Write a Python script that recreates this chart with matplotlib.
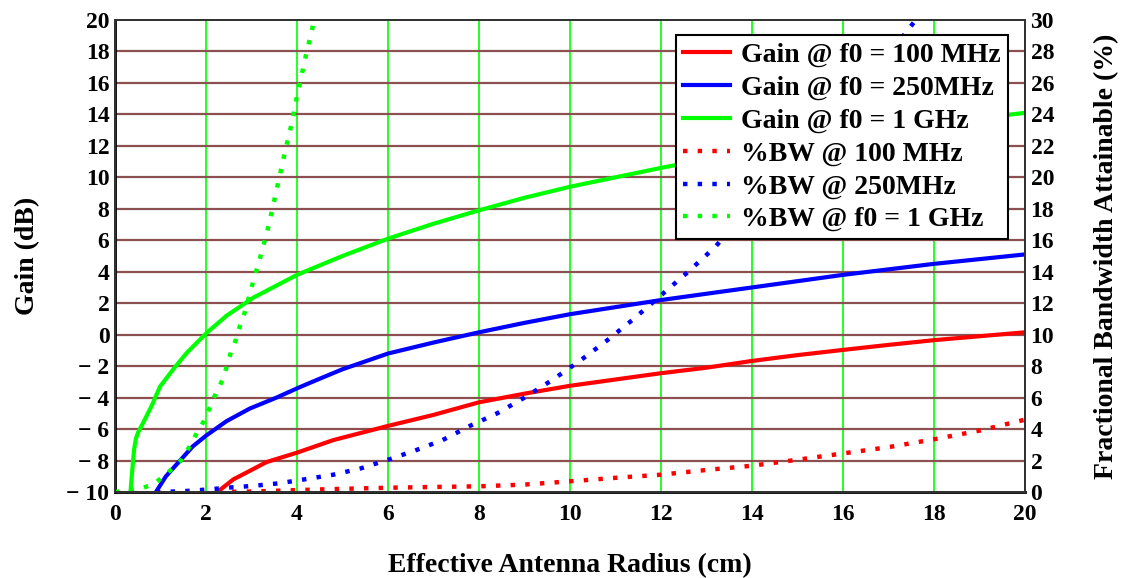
import numpy as np
import matplotlib
matplotlib.use("Agg")
import matplotlib.pyplot as plt
from matplotlib.ticker import FuncFormatter

# gain curves (dB) vs effective radius (cm)
r_g100 = [2.25, 2.6, 3.0, 3.33, 4.0, 4.8, 6.0, 7.0, 8.0, 9.0, 10.0, 11.0, 12.0,
          13.0, 14.0, 15.0, 16.0, 17.0, 18.0, 19.0, 20.0]
g100 = [-10.0, -9.2, -8.6, -8.1, -7.5, -6.7, -5.8, -5.1, -4.3, -3.75, -3.25, -2.85, -2.45,
        -2.1, -1.67, -1.3, -0.97, -0.65, -0.35, -0.1, 0.15]

r_g250 = [0.9, 1.12, 1.43, 1.71, 2.01, 2.45, 2.96, 3.55, 4.05, 4.5, 5.0, 6.0, 7.0,
          8.0, 9.0, 10.0, 11.0, 12.0, 13.0, 14.0, 15.0, 16.0, 17.0, 18.0, 19.0, 20.0]
g250 = [-10.0, -9.0, -8.0, -7.1, -6.4, -5.5, -4.7, -4.0, -3.35, -2.8, -2.2, -1.2, -0.5,
        0.15, 0.75, 1.3, 1.75, 2.2, 2.6, 3.0, 3.4, 3.8, 4.15, 4.5, 4.8, 5.1]

r_g1000 = [0.34, 0.38, 0.42, 0.46, 0.51, 0.62, 0.81, 0.99, 1.28, 1.58, 2.01, 2.45, 3.04,
           4.0, 5.0, 6.0, 7.0, 8.0, 9.0, 10.0, 11.0, 12.0, 14.0, 16.0, 18.0, 20.0]
g1000 = [-10.0, -8.6, -7.3, -6.6, -6.2, -5.6, -4.5, -3.3, -2.2, -1.15, 0.1, 1.2, 2.35,
         3.8, 5.0, 6.1, 7.05, 7.9, 8.7, 9.4, 10.0, 10.6, 11.7, 12.6, 13.4, 14.1]

# fractional bandwidth curves (%)
r_bw100 = [2.25, 3.0, 4.0, 5.0, 6.0, 7.0, 8.0, 9.0, 10.0, 11.0, 12.0, 13.0, 14.0,
           15.0, 16.0, 17.0, 18.0, 19.0, 20.0]
bw100 = [0.0, 0.03, 0.12, 0.2, 0.27, 0.32, 0.36, 0.47, 0.68, 0.9, 1.1, 1.4, 1.67,
         2.05, 2.45, 2.85, 3.35, 3.9, 4.6]

r_bw250 = [0.9, 1.5, 2.0, 2.5, 3.0, 3.6, 4.2, 4.8, 5.4, 6.0, 6.6, 7.2, 7.8, 8.4, 9.0,
           9.6, 10.2, 10.8, 11.4, 12.0, 12.6, 13.2, 14.0, 15.0, 16.0, 17.0, 17.6]
bw250 = [0.0, 0.05, 0.15, 0.28, 0.38, 0.55, 0.82, 1.1, 1.5, 2.05, 2.64, 3.3, 4.2, 5.0, 6.0,
         7.1, 8.3, 9.6, 11.0, 12.5, 14.0, 15.6, 18.3, 21.4, 24.6, 27.8, 30.0]

r_bw1000 = [0.0, 0.3, 0.6, 0.85, 1.15, 1.45, 1.62, 1.79, 1.95, 2.09, 2.22, 2.36, 2.46,
            2.55, 2.66, 2.75, 2.85, 3.02, 3.19, 3.35, 3.49, 3.62, 3.75, 3.89, 3.99, 4.2, 4.38]
bw1000 = [0.0, 0.1, 0.25, 0.5, 1.2, 2.0, 2.8, 3.7, 4.5, 5.4, 6.3, 7.1, 8.0,
          8.9, 9.7, 10.6, 11.4, 13.2, 14.9, 16.6, 18.4, 20.1, 21.8, 23.5, 25.0, 27.8, 30.0]

x_ticks = np.arange(0, 21, 2)
gain_ticks = np.arange(-10, 21, 2)
bw_ticks = np.arange(0, 31, 2)

plt.rcParams["font.family"] = ["Liberation Serif", "DejaVu Serif"]
plt.rcParams["font.weight"] = "bold"

fig = plt.figure(figsize=(11.23, 5.78), dpi=100)
ax = fig.add_axes([0.1024, 0.1488, 0.8103, 0.8166])
ax2 = ax.twinx()

ax.set_xlim(0, 20)
ax.set_ylim(-10, 20)
ax2.set_ylim(0, 30)

# grid
for xv in x_ticks[1:-1]:
    ax.axvline(xv, color="#00ff00", lw=1.2, zorder=1)
for yv in gain_ticks[1:-1]:
    ax.axhline(yv, color="#8c5050", lw=1.6, zorder=1)

lw = 3.0
l1, = ax.plot(r_g100, g100, color="#ff0000", lw=lw, zorder=3, label="Gain @ f0 = 100 MHz")
l2, = ax.plot(r_g250, g250, color="#0000ff", lw=lw, zorder=3, label="Gain @ f0 = 250MHz")
l3, = ax.plot(r_g1000, g1000, color="#00ff00", lw=lw, zorder=3, label="Gain @ f0 = 1 GHz")
dots = (0, (1, 2.3))
l4, = ax2.plot(r_bw100, bw100, color="#ff0000", lw=3.2, ls=dots, label="%BW @ 100 MHz")
l5, = ax2.plot(r_bw250, bw250, color="#0000ff", lw=3.2, ls=dots, label="%BW @ 250MHz")
l6, = ax2.plot(r_bw1000, bw1000, color="#00ff00", lw=3.2, ls=dots, label="%BW @ f0 = 1 GHz")


def minus_fmt(v, pos):
    v = int(round(v))
    return "\u2212 " + str(-v) if v < 0 else str(v)


ax.set_xticks(x_ticks)
ax.set_yticks(gain_ticks)
ax2.set_yticks(bw_ticks)
ax.yaxis.set_major_formatter(FuncFormatter(minus_fmt))
ax.tick_params(axis="both", length=0, labelsize=17, pad=4)
ax.tick_params(axis="x", pad=9)
ax2.tick_params(axis="y", length=0, labelsize=17, pad=4)

for a in (ax, ax2):
    for s in a.spines.values():
        s.set_color("#333333")
        s.set_linewidth(1.4)
ax.spines["left"].set_color("black")
ax.spines["bottom"].set_color("black")
ax.spines["left"].set_linewidth(2)
ax.spines["bottom"].set_linewidth(2)

ax.set_xlabel("Effective Antenna Radius (cm)", fontsize=20, fontweight="bold", labelpad=20)
ax.set_ylabel("Gain (dB)", fontsize=20, fontweight="bold", labelpad=19)
ax2.set_ylabel("Fractional Bandwidth Attainable (%)", fontsize=20, fontweight="bold", labelpad=29)

leg = ax2.legend(handles=[l1, l2, l3, l4, l5, l6], loc="upper left",
                 bbox_to_anchor=(0.6165, 0.968), borderaxespad=0, fontsize=20,
                 frameon=True, fancybox=False, edgecolor="black", framealpha=1,
                 handlelength=1.7, handletextpad=0.4, labelspacing=0.27, borderpad=0.25)
leg.get_frame().set_linewidth(1.5)
leg.set_zorder(10)

fig.savefig("out.png", dpi=100)
